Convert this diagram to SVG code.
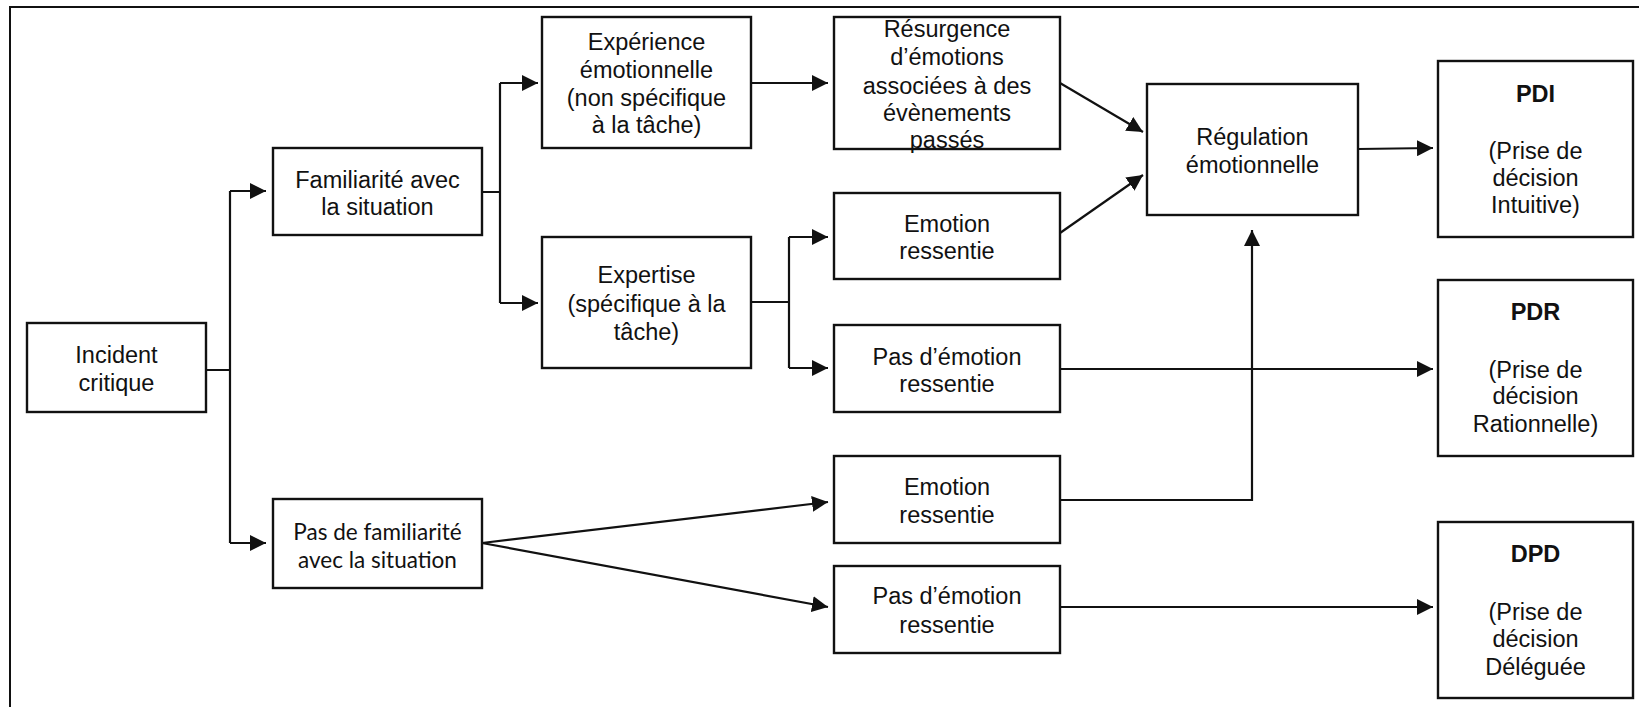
<svg xmlns="http://www.w3.org/2000/svg" width="1639" height="707" viewBox="0 0 1639 707">
<style>
.box{fill:#fff;stroke:#111;stroke-width:2.4}
.t{font-family:"Liberation Sans",Arial,sans-serif;font-size:23.5px;fill:#111;text-anchor:middle}
.c{font-family:Lato,"Open Sans",sans-serif;font-size:22.5px;fill:#111;text-anchor:middle}
.b{font-weight:bold}
.ln{fill:none;stroke:#111;stroke-width:2.2}
</style>
<defs>
<marker id="ah" markerUnits="userSpaceOnUse" markerWidth="17" markerHeight="16" refX="16" refY="8" orient="auto">
<path d="M0,0 L16,8 L0,16 z" fill="#111"/>
</marker>
</defs>
<rect x="10" y="7" width="1640" height="710" fill="#fff" stroke="#111" stroke-width="2"/>
<g id="connectors">
<path class="ln" d="M206,370 H230 M230,191 V543"/>
<path class="ln" d="M230,191 H266" marker-end="url(#ah)"/>
<path class="ln" d="M230,543 H266" marker-end="url(#ah)"/>
<path class="ln" d="M482,192 H500 M500,83 V303"/>
<path class="ln" d="M500,83 H538" marker-end="url(#ah)"/>
<path class="ln" d="M500,303 H538" marker-end="url(#ah)"/>
<path class="ln" d="M751,83 H828" marker-end="url(#ah)"/>
<path class="ln" d="M751,302 H789 M789,237 V368"/>
<path class="ln" d="M789,237 H828" marker-end="url(#ah)"/>
<path class="ln" d="M789,368 H828" marker-end="url(#ah)"/>
<path class="ln" d="M1060,83 L1143,132" marker-end="url(#ah)"/>
<path class="ln" d="M1060,233 L1143,175" marker-end="url(#ah)"/>
<path class="ln" d="M1358,149 L1433,148" marker-end="url(#ah)"/>
<path class="ln" d="M1060,369 H1433" marker-end="url(#ah)"/>
<path class="ln" d="M1060,500 H1252 V230" marker-end="url(#ah)"/>
<path class="ln" d="M482,543 L828,502" marker-end="url(#ah)"/>
<path class="ln" d="M482,543 L828,607" marker-end="url(#ah)"/>
<path class="ln" d="M1060,607 H1433" marker-end="url(#ah)"/>
</g>
<g id="incident">
<rect class="box" x="27" y="323" width="179" height="89"/>
<text class="t" x="116.5" y="363">Incident</text>
<text class="t" x="116.5" y="391">critique</text>
</g>
<g id="familiarite">
<rect class="box" x="273" y="148" width="209" height="87"/>
<text class="t" x="377.5" y="188">Familiarité avec</text>
<text class="t" x="377.5" y="215">la situation</text>
</g>
<g id="pas-familiarite">
<rect class="box" x="273" y="499" width="209" height="89"/>
<text class="c" x="377.5" y="540">Pas de familiarité</text>
<text class="c" x="377.5" y="568">avec la situation</text>
</g>
<g id="experience">
<rect class="box" x="542" y="17" width="209" height="131"/>
<text class="t" x="646.5" y="50">Expérience</text>
<text class="t" x="646.5" y="78">émotionnelle</text>
<text class="t" x="646.5" y="106">(non spécifique</text>
<text class="t" x="646.5" y="133">à la tâche)</text>
</g>
<g id="resurgence">
<rect class="box" x="834" y="17" width="226" height="132"/>
<text class="t" x="947" y="37">Résurgence</text>
<text class="t" x="947" y="65">d’émotions</text>
<text class="t" x="947" y="94">associées à des</text>
<text class="t" x="947" y="121">évènements</text>
<text class="t" x="947" y="148">passés</text>
</g>
<g id="expertise">
<rect class="box" x="542" y="237" width="209" height="131"/>
<text class="t" x="646.5" y="283">Expertise</text>
<text class="t" x="646.5" y="312">(spécifique à la</text>
<text class="t" x="646.5" y="340">tâche)</text>
</g>
<g id="emotion-1">
<rect class="box" x="834" y="193" width="226" height="86"/>
<text class="t" x="947" y="232">Emotion</text>
<text class="t" x="947" y="259">ressentie</text>
</g>
<g id="pas-emotion-1">
<rect class="box" x="834" y="325" width="226" height="87"/>
<text class="t" x="947" y="365">Pas d’émotion</text>
<text class="t" x="947" y="392">ressentie</text>
</g>
<g id="emotion-2">
<rect class="box" x="834" y="456" width="226" height="87"/>
<text class="t" x="947" y="495">Emotion</text>
<text class="t" x="947" y="523">ressentie</text>
</g>
<g id="pas-emotion-2">
<rect class="box" x="834" y="566" width="226" height="87"/>
<text class="t" x="947" y="604">Pas d’émotion</text>
<text class="t" x="947" y="633">ressentie</text>
</g>
<g id="regulation">
<rect class="box" x="1147" y="84" width="211" height="131"/>
<text class="t" x="1252.5" y="145">Régulation</text>
<text class="t" x="1252.5" y="173">émotionnelle</text>
</g>
<g id="pdi">
<rect class="box" x="1438" y="61" width="195" height="176"/>
<text class="t b" x="1535.5" y="102">PDI</text>
<text class="t" x="1535.5" y="159">(Prise de</text>
<text class="t" x="1535.5" y="186">décision</text>
<text class="t" x="1535.5" y="213">Intuitive)</text>
</g>
<g id="pdr">
<rect class="box" x="1438" y="280" width="195" height="176"/>
<text class="t b" x="1535.5" y="320">PDR</text>
<text class="t" x="1535.5" y="378">(Prise de</text>
<text class="t" x="1535.5" y="404">décision</text>
<text class="t" x="1535.5" y="432">Rationnelle)</text>
</g>
<g id="dpd">
<rect class="box" x="1438" y="522" width="195" height="176"/>
<text class="t b" x="1535.5" y="562">DPD</text>
<text class="t" x="1535.5" y="620">(Prise de</text>
<text class="t" x="1535.5" y="647">décision</text>
<text class="t" x="1535.5" y="675">Déléguée</text>
</g>
</svg>
